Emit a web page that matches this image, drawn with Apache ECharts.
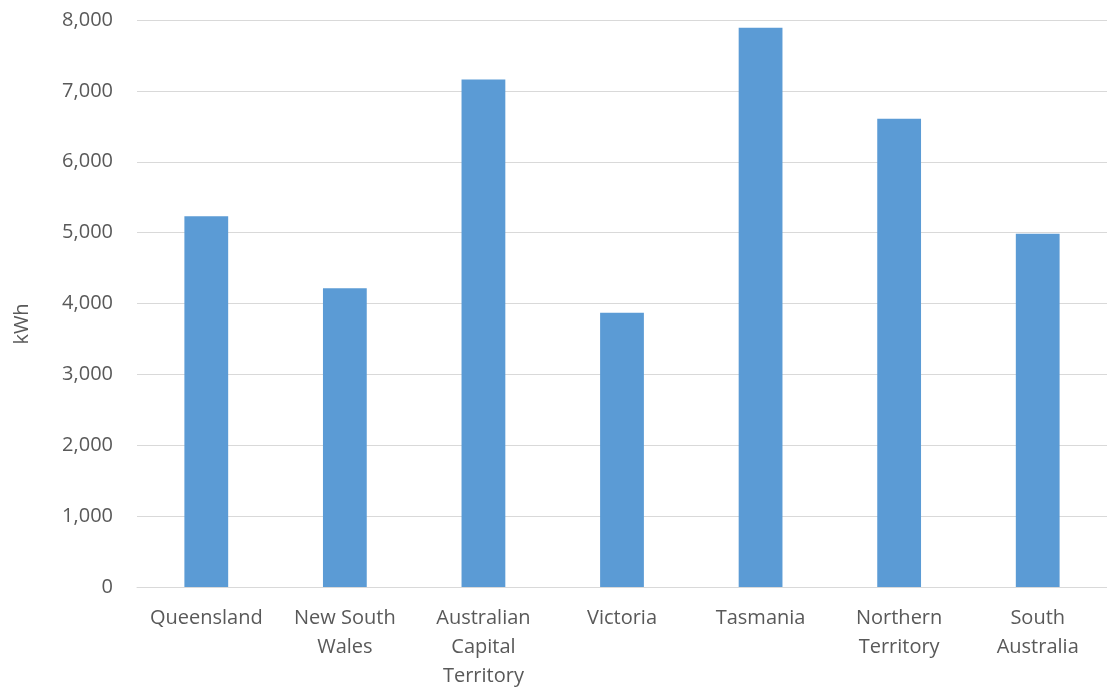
<!DOCTYPE html>
<html>
<head>
<meta charset="utf-8">
<title>Household electricity use by state</title>
<script src="https://cdn.jsdelivr.net/npm/echarts@6/dist/echarts.min.js"></script>
<style>
  html, body { margin: 0; padding: 0; background: #ffffff; overflow: hidden; }
  #chart { width: 1107px; height: 691px; }
</style>
</head>
<body>
<div id="chart"></div>
<script>
// States and territories, with their axis labels (wrapped over lines)
const categories = [
  'Queensland', 'New South Wales', 'Australian Capital Territory',
  'Victoria', 'Tasmania', 'Northern Territory', 'South Australia'
];
const categoryLabels = [
  'Queensland', 'New South\nWales', 'Australian\nCapital\nTerritory',
  'Victoria', 'Tasmania', 'Northern\nTerritory', 'South\nAustralia'
];
// Annual consumption, kWh
const usage = [5230, 4215, 7160, 3870, 7890, 6605, 4985];
// Value axis
const yMin = 0;
const yMax = 8000;
const yStep = 1000;
const yName = 'kWh';

const textColor = '#595959';
const gridColor = '#d9d9d9';
const font = '"Open Sans", "Noto Sans", sans-serif';

const chart = echarts.init(document.getElementById('chart'), null, { renderer: 'canvas' });
chart.setOption({
  backgroundColor: '#ffffff',
  animation: false,
  grid: { left: 137, width: 982, top: 20, bottom: 93, containLabel: false },
  xAxis: {
    type: 'category',
    data: categories,
    axisLine: { show: true, lineStyle: { color: gridColor, width: 1 } },
    axisTick: { show: false },
    axisLabel: {
      interval: 0,
      margin: 17,
      color: textColor,
      fontFamily: font,
      fontSize: 20,
      lineHeight: 29,
      formatter: (v, i) => categoryLabels[i]
    }
  },
  yAxis: {
    type: 'value',
    min: yMin,
    max: yMax,
    interval: yStep,
    axisLine: { show: false },
    axisTick: { show: false },
    splitLine: { lineStyle: { color: gridColor, width: 1 } },
    axisLabel: {
      margin: 24,
      color: textColor,
      fontFamily: font,
      fontSize: 20,
      formatter: v => v.toLocaleString('en-US')
    }
  },
  // Axis title, placed beside the value labels
  graphic: [{
    type: 'text',
    x: 22,
    y: 324,
    rotation: Math.PI / 2,
    style: {
      text: yName,
      fill: textColor,
      font: '20px ' + font,
      align: 'center',
      verticalAlign: 'middle'
    }
  }],
  series: [{
    type: 'bar',
    data: usage,
    barWidth: '31.6%',
    itemStyle: { color: '#5b9bd5' }
  }]
});
</script>
</body>
</html>
